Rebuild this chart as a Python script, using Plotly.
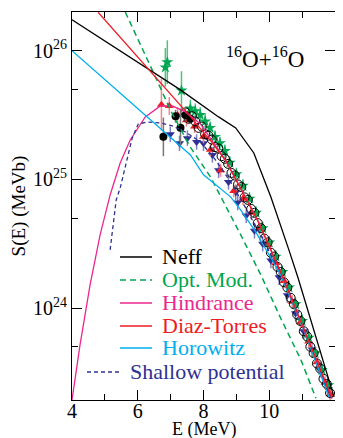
import plotly.graph_objects as go

FONT = "Liberation Serif"

# ---------------- model curves: E (MeV) and log10 S (MeV b) ----------------
neff_E = [4.00, 4.86, 7.30, 8.46, 8.98, 9.53, 10.05, 10.60, 10.87, 11.97]
neff_logS = [26.239, 26.099, 25.695, 25.485, 25.400, 25.205, 24.863, 24.450, 24.240, 23.310]

opt_E = [5.62, 6.17, 6.53, 6.99, 7.60, 8.21, 8.67, 9.13, 9.74, 10.35, 10.96, 11.42]
opt_logS = [26.30, 26.005, 25.80, 25.54, 25.25, 25.02, 24.80, 24.57, 24.26, 23.92, 23.60, 23.30]

hind_E = [4.000, 4.244, 4.550, 4.855, 5.160, 5.466, 5.771, 6.229, 6.687, 7.053, 7.450, 7.908,
          8.67, 9.13, 9.65, 10.35, 11.12, 11.91]
hind_logS = [23.286, 23.714, 24.180, 24.568, 24.879, 25.127, 25.306, 25.485, 25.570, 25.570, 25.524, 25.430,
             25.15, 24.93, 24.68, 24.28, 23.80, 23.30]

diaz_E = [4.794, 6.687, 7.603, 8.214, 8.672, 9.130, 9.649, 10.351, 11.115, 11.908]
diaz_logS = [26.298, 25.751, 25.487, 25.301, 25.146, 24.929, 24.680, 24.276, 23.802, 23.297]

horo_E = [4.000, 7.603, 8.000, 8.824, 9.130, 9.588, 10.351, 11.115, 11.817]
horo_logS = [26.000, 25.190, 25.035, 24.864, 24.763, 24.592, 24.257, 23.791, 23.310]

shal_E = [5.160, 5.344, 5.466, 5.679, 5.832, 6.015, 6.290, 6.687, 7.053, 7.450, 7.908, 8.366,
          8.824, 9.282, 9.740, 10.351, 11.115, 11.878]
shal_logS = [24.452, 24.840, 24.933, 25.151, 25.322, 25.430, 25.446, 25.438, 25.415, 25.368, 25.291, 25.151,
             24.980, 24.778, 24.568, 24.265, 23.791, 23.301]

# ---------------- experimental data: E (MeV), log10 S, error (dex) ----------------
open_E = [7.45, 7.55, 7.65, 7.75, 7.85, 7.95, 8.05, 8.15, 8.25, 8.35, 8.45, 8.55, 8.65, 8.75, 8.85,
          8.95, 9.05, 9.15, 9.25, 9.35, 9.45, 9.55, 9.65, 9.75, 9.85, 9.95, 10.05, 10.15, 10.25, 10.35,
          10.45, 10.55, 10.65, 10.75, 10.85, 10.95, 11.05, 11.15, 11.25, 11.35, 11.45, 11.55, 11.65, 11.75, 11.85]
open_logS = [25.52, 25.47, 25.49, 25.45, 25.40, 25.41, 25.35, 25.34, 25.31, 25.25, 25.24, 25.18, 25.16, 25.12, 25.05,
             25.03, 24.96, 24.94, 24.86, 24.84, 24.77, 24.74, 24.66, 24.62, 24.54, 24.51, 24.43, 24.40, 24.32, 24.28,
             24.20, 24.16, 24.08, 24.03, 23.95, 23.90, 23.82, 23.78, 23.70, 23.65, 23.57, 23.53, 23.45, 23.41, 23.34]

fill_E = [6.78, 7.15, 7.30, 7.45, 7.60]
fill_logS = [25.33, 25.49, 25.40, 25.50, 25.47]
fill_err = [0.15, 0.05, 0.15, 0.05, 0.04]

green_E = [6.84, 6.90, 7.33, 7.60, 7.75, 7.90, 8.05, 8.20, 8.35, 8.50, 8.65, 8.80, 9.00, 9.20, 9.40,
           9.60, 9.80, 10.00, 10.20, 10.40, 10.60, 10.80, 11.00, 11.20, 11.40, 11.60, 11.80]
green_logS = [25.87, 25.91, 25.69, 25.55, 25.53, 25.50, 25.45, 25.40, 25.33, 25.28, 25.22, 25.13, 25.04, 24.95, 24.85,
              24.74, 24.62, 24.51, 24.40, 24.28, 24.16, 24.03, 23.90, 23.77, 23.65, 23.52, 23.40]
green_err = [0.15, 0.17, 0.15, 0.07, 0.06, 0.06, 0.06, 0.05, 0.05, 0.05, 0.05, 0.05, 0.05, 0.05, 0.05,
             0.05, 0.05, 0.05, 0.05, 0.05, 0.05, 0.05, 0.05, 0.05, 0.05, 0.05, 0.05]

red_E = [6.72, 6.96, 7.21, 7.48, 7.73, 8.00, 8.21, 8.52, 8.92, 9.20, 9.45, 9.70, 9.95, 10.20, 10.45,
         10.70, 10.95, 11.20, 11.45, 11.70, 11.85]
red_logS = [25.58, 25.57, 25.50, 25.46, 25.41, 25.33, 25.23, 25.07, 24.91, 24.85, 24.74, 24.62, 24.49, 24.35, 24.21,
            24.05, 23.89, 23.74, 23.58, 23.42, 23.33]
red_err = [0.20, 0.07, 0.06, 0.05, 0.05, 0.05, 0.05, 0.05, 0.05, 0.05, 0.05, 0.05, 0.05, 0.05, 0.05,
           0.05, 0.05, 0.05, 0.05, 0.05, 0.05]

blue_E = [6.99, 7.27, 7.51, 7.79, 8.00, 8.27, 8.46, 8.76, 8.98, 9.04, 9.30, 9.55, 9.80, 10.05, 10.30,
          10.55, 10.80, 11.05, 11.30, 11.55, 11.80]
blue_logS = [25.35, 25.28, 25.32, 25.29, 25.28, 25.19, 25.07, 24.98, 24.90, 24.82, 24.72, 24.60, 24.50, 24.37, 24.24,
             24.10, 23.96, 23.82, 23.68, 23.52, 23.37]
blue_err = [0.06, 0.06, 0.06, 0.06, 0.06, 0.06, 0.06, 0.06, 0.06, 0.06, 0.06, 0.06, 0.06, 0.06, 0.06,
            0.06, 0.06, 0.06, 0.06, 0.06, 0.06]

legend_names = ["Neff", "Opt. Mod.", "Hindrance", "Diaz-Torres", "Horowitz", "Shallow potential"]
y_tickvals = [1e24, 1e25, 1e26]
y_ticktext = ["10<sup>24</sup>", "10<sup>25</sup>", "10<sup>26</sup>"]
x_tickvals = [4, 6, 8, 10, 12]

C_BLACK = "#000000"
C_GREEN = "#00a650"
C_MAG = "#ec268f"
C_RED = "#ed1c24"
C_CYAN = "#00aeef"
C_NAVY = "#2e3192"


def lin(v):
    return [10 ** a for a in v]


def errs(v, d):
    plus = [10 ** (a + e) - 10 ** a for a, e in zip(v, d)]
    minus = [10 ** a - 10 ** (a - e) for a, e in zip(v, d)]
    return plus, minus


fig = go.Figure()


def add_points(E, logS, d, symbol, color, ecolor, size=8, line_w=0):
    p, m = errs(logS, d)
    fig.add_trace(go.Scatter(
        x=E, y=lin(logS), mode="markers",
        marker=dict(symbol=symbol, size=size, color=color, line=dict(width=line_w, color=color)),
        error_y=dict(type="data", array=p, arrayminus=m, color=ecolor, thickness=1.5, width=0),
        showlegend=False, hoverinfo="skip"))


add_points(blue_E, blue_logS, blue_err, "triangle-down", C_NAVY, "#7f81c2", size=8)
add_points(red_E, red_logS, red_err, "triangle-up", C_RED, "#f3878a", size=8)
add_points(green_E, green_logS, green_err, "star", C_GREEN, "#4cc27f", size=9)
fig.add_trace(go.Scatter(x=open_E, y=lin(open_logS), mode="markers",
                         marker=dict(symbol="circle-open", size=9, color=C_BLACK, line=dict(width=1)),
                         showlegend=False, hoverinfo="skip"))
add_points(fill_E, fill_logS, fill_err, "circle", C_BLACK, "#777777", size=8)


def add_curve(E, logS, color, dash="solid", width=1.3):
    fig.add_trace(go.Scatter(x=E, y=lin(logS), mode="lines",
                             line=dict(color=color, width=width, dash=dash),
                             showlegend=False, hoverinfo="skip"))


add_curve(hind_E, hind_logS, C_MAG)
add_curve(shal_E, shal_logS, C_NAVY, dash="4px,3px", width=1.3)
add_curve(opt_E, opt_logS, C_GREEN, dash="6px,4px", width=1.5)
add_curve(horo_E, horo_logS, C_CYAN)
add_curve(neff_E, neff_logS, C_BLACK)
add_curve(diaz_E, diaz_logS, C_RED)

# ---------------- layout geometry ----------------
# the page body has an 8px margin, so the figure starts at (8, 8) in the window
OFF = 8
WIN_W, WIN_H = 343, 438
W, H = WIN_W - OFF, WIN_H - OFF
X0, X1, Y0, Y1 = 72, 335, 12, 400          # plot area in window pixels
L, R, T, B = X0 - OFF, WIN_W - X1, Y0 - OFF, WIN_H - Y1
PW, PH = X1 - X0, Y1 - Y0


def px(x):
    return (x - X0) / PW


def py(y):
    return 1 - (y - Y0) / PH


# hand-drawn legend (as in the original figure)
leg_colors = [C_BLACK, C_GREEN, C_MAG, C_RED, C_CYAN, C_NAVY]
leg_dash = ["solid", "6px,4px", "solid", "solid", "solid", "4px,3px"]
leg_y = [257, 280, 303, 326, 348, 372]
leg_x0 = [120, 120, 120, 120, 120, 87]
leg_x1 = [152, 152, 152, 152, 152, 120]
leg_tx = [160, 160, 160, 160, 160, 128]
for name, c, dsh, yy, x0, x1, tx in zip(legend_names, leg_colors, leg_dash, leg_y, leg_x0, leg_x1, leg_tx):
    fig.add_shape(type="line", xref="paper", yref="paper", x0=px(x0), x1=px(x1), y0=py(yy), y1=py(yy),
                  line=dict(color=c, width=1.5, dash=dsh))
    fig.add_annotation(xref="paper", yref="paper", x=px(tx), y=py(yy - 1), xanchor="left", yanchor="middle",
                       text=name, showarrow=False, font=dict(family=FONT, size=22, color=c))

fig.add_annotation(xref="paper", yref="paper", x=px(265), y=py(57), xanchor="center", yanchor="middle",
                   text="<sup>16</sup>O+<sup>16</sup>O", showarrow=False,
                   font=dict(family=FONT, size=23, color="black"))

# x-axis title placed as in the original
fig.add_annotation(xref="paper", yref="paper", x=px(204), y=py(429), xanchor="center", yanchor="middle",
                   text="E (MeV)", showarrow=False, font=dict(family=FONT, size=18, color="black"))

axis_common = dict(showline=True, linecolor="black", linewidth=1, mirror="ticks", ticks="inside",
                   tickcolor="black", tickwidth=1, ticklen=10, showgrid=False, zeroline=False,
                   tickfont=dict(family=FONT, size=20, color="black"))

fig.update_layout(
    width=W, height=H, margin=dict(l=L, r=R, t=T, b=B),
    paper_bgcolor="white", plot_bgcolor="white",
    font=dict(family=FONT, color="black"),
    xaxis=dict(range=[4, 12], tickvals=x_tickvals, ticklabelstandoff=-7, **axis_common,
               minor=dict(tickvals=[5, 7, 9, 11], ticks="inside", ticklen=6, tickcolor="black", tickwidth=1)),
    yaxis=dict(type="log", range=[23.286, 26.30], tickvals=y_tickvals, ticktext=y_ticktext, **axis_common,
               minor=dict(tickvals=[5e23, 5e24, 5e25], ticks="inside", ticklen=6, tickcolor="black", tickwidth=1),
               title=dict(text="S(E) (MeVb)", font=dict(family=FONT, size=19), standoff=4)),
)

fig.write_html("out.html")
